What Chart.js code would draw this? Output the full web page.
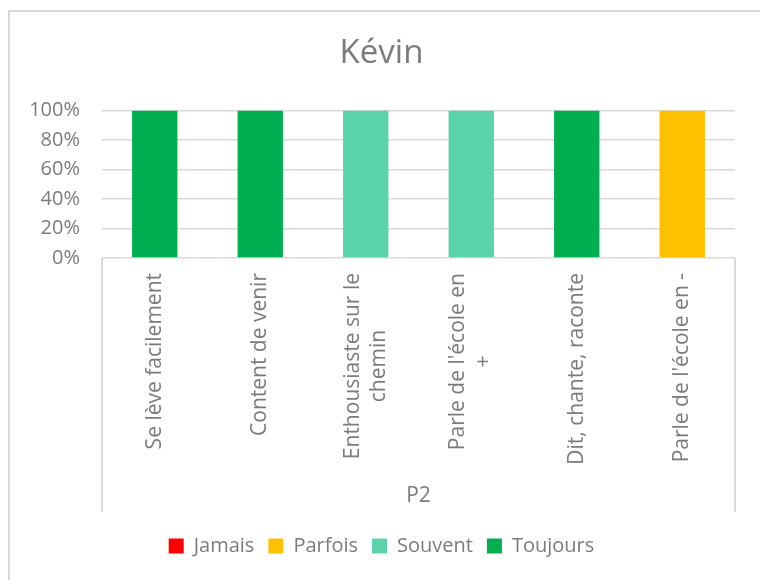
<!DOCTYPE html>
<html>
<head>
<meta charset="utf-8">
<script src="https://cdn.jsdelivr.net/npm/chart.js@4"></script>
<style>
  body { margin: 0; background: #fff; overflow: hidden; }
  #wrap { position: relative; width: 760px; height: 580px; }
  #cadre { position: absolute; left: 8px; top: 10px; width: 800px; height: 620px;
           border: 2px solid #d9d9d9; pointer-events: none; }
</style>
</head>
<body>
<div id="wrap">
  <canvas id="kevin" width="760" height="580"></canvas>
  <div id="cadre"></div>
</div>
<script>
// categories (P2)
const categories = [
    ["Se lève facilement"],
    ["Content de venir"],
    ["Enthousiaste sur le", "chemin"],
    ["Parle de l'école en", "+"],
    ["Dit, chante, raconte"],
    ["Parle de l'école en -"]
];
const groupe = "P2";
// valeurs en %
const jamais   = [0, 0, 0, 0, 0, 0];
const parfois  = [0, 0, 0, 0, 0, 100];
const souvent  = [0, 0, 100, 100, 0, 0];
const toujours = [100, 100, 0, 0, 100, 0];
const yTicks = [0, 20, 40, 60, 80, 100];

const gris = '#7b7b7b';
const police = '"Open Sans", sans-serif';

// etiquettes de l'axe x dessinees a la main (centrees comme Excel) + cadre P2
const axeX = {
    id: 'axeX',
    afterDraw(chart) {
        const ctx = chart.ctx;
        const xs = chart.scales.x;
        const ca = chart.chartArea;
        ctx.save();
        ctx.font = '21px ' + police;
        ctx.fillStyle = gris;
        categories.forEach((lignes, i) => {
            const px = xs.getPixelForValue(i);
            let maxW = 0;
            lignes.forEach(l => { maxW = Math.max(maxW, ctx.measureText(l).width); });
            ctx.save();
            ctx.translate(px, ca.bottom + 15);
            ctx.rotate(-Math.PI / 2);
            ctx.textAlign = 'center';
            ctx.textBaseline = 'middle';
            lignes.forEach((l, j) => {
                ctx.fillText(l, -maxW / 2, (j - (lignes.length - 1) / 2) * 26);
            });
            ctx.restore();
        });
        // nom du groupe
        ctx.textAlign = 'center';
        ctx.textBaseline = 'middle';
        ctx.fillText(groupe, (ca.left + ca.right) / 2, 496);
        // traits verticaux du cadre
        ctx.strokeStyle = '#d9d9d9';
        ctx.lineWidth = 2;
        ctx.beginPath();
        ctx.moveTo(ca.left, ca.bottom);
        ctx.lineTo(ca.left, 512);
        ctx.moveTo(ca.right, ca.bottom);
        ctx.lineTo(ca.right, 512);
        ctx.stroke();
        ctx.restore();
    }
};

const grafica = document.querySelector('#kevin');
var myChart = new Chart(grafica, {
    type: 'bar',
    data: {
        labels: categories,
        datasets: [
            { label: 'Jamais',   data: jamais,   backgroundColor: '#ff0000' },
            { label: 'Parfois',  data: parfois,  backgroundColor: '#ffc000' },
            { label: 'Souvent',  data: souvent,  backgroundColor: '#5ad3aa' },
            { label: 'Toujours', data: toujours, backgroundColor: '#00b050' }
        ]
    },
    options: {
        responsive: false,
        animation: false,
        barPercentage: 0.43,
        categoryPercentage: 1,
        layout: { padding: { top: 20, left: 28, right: 25, bottom: 14 } },
        scales: {
            x: {
                stacked: true,
                grid: { display: false },
                border: { display: false },
                ticks: { display: false },
                afterFit: (s) => { s.height = 264; }
            },
            y: {
                stacked: true,
                min: 0,
                max: 100,
                afterBuildTicks: (s) => { s.ticks = yTicks.map(v => ({ value: v })); },
                grid: { color: '#d9d9d9', lineWidth: 1.5, drawTicks: false },
                border: { display: false },
                ticks: {
                    padding: 22,
                    color: gris,
                    font: { family: police, size: 20 },
                    callback: (v) => v + '%'
                },
                afterFit: (s) => { s.width = 74; }
            }
        },
        plugins: {
            title: {
                display: true,
                text: 'Kévin',
                color: gris,
                font: { family: police, size: 33, weight: 'normal' },
                padding: { top: 14, bottom: 37 }
            },
            legend: {
                position: 'bottom',
                labels: {
                    color: gris,
                    boxWidth: 15,
                    boxHeight: 15,
                    padding: 14,
                    font: { family: police, size: 20 }
                }
            },
            tooltip: { enabled: false }
        }
    },
    plugins: [axeX]
});
</script>
</body>
</html>
